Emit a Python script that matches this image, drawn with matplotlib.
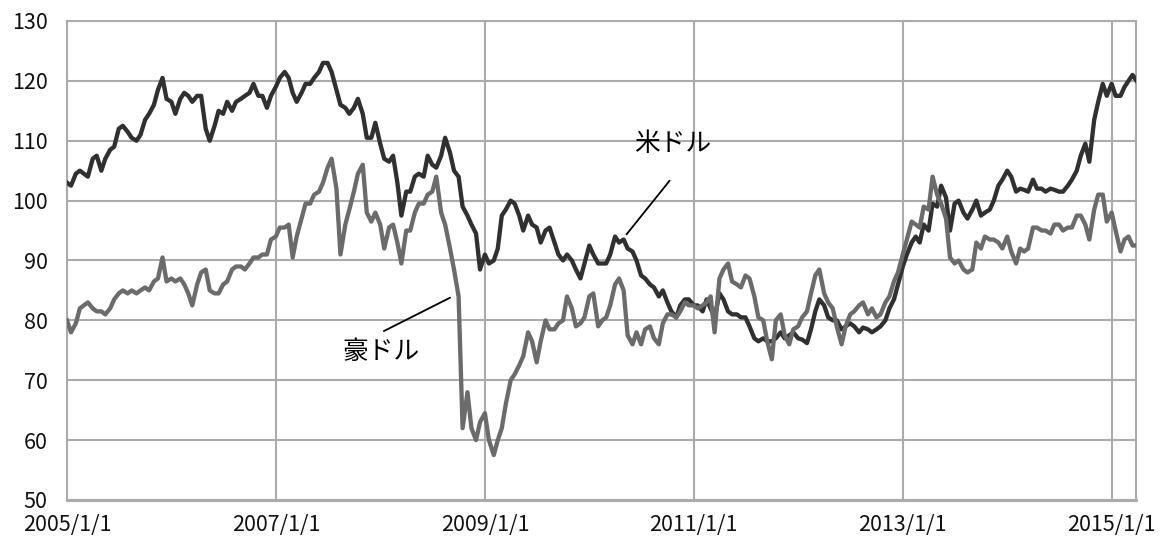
import matplotlib
matplotlib.use('Agg')
import matplotlib.pyplot as plt
from matplotlib.patches import Rectangle
import pandas as pd

plt.rcParams['font.family'] = ['Noto Sans CJK JP', 'DejaVu Sans']

# semi-monthly readings (1st and 15th of each month), 2005/1/1 .. 2015/4/1
usd_jpy = [
    # 2005
    103.0, 102.5, 104.5, 105.0, 104.5, 104.0, 107.0, 107.5, 105.0, 107.0, 108.5, 109.0,
    112.0, 112.5, 111.5, 110.5, 110.0, 111.0, 113.5, 114.5, 116.0, 118.5, 120.5, 117.0,
    # 2006
    116.5, 114.5, 117.0, 118.0, 117.5, 116.5, 117.5, 117.5, 112.0, 110.0, 112.5, 115.0,
    114.5, 116.5, 115.0, 116.5, 117.0, 117.5, 118.0, 119.5, 117.5, 117.5, 115.5, 117.5,
    # 2007
    119.0, 120.5, 121.5, 120.5, 118.0, 116.5, 118.0, 119.5, 119.5, 120.5, 121.5, 123.0,
    123.0, 121.5, 118.5, 116.0, 115.5, 114.5, 115.5, 117.0, 114.5, 110.5, 110.5, 113.0,
    # 2008
    109.5, 107.0, 106.5, 107.5, 103.0, 97.5, 101.5, 101.5, 104.0, 104.5, 104.0, 107.5,
    106.0, 105.5, 107.5, 110.5, 108.0, 105.0, 104.0, 99.0, 97.5, 96.0, 94.5, 88.5,
    # 2009
    91.0, 89.5, 90.0, 92.0, 97.5, 98.5, 100.0, 99.5, 97.5, 95.0, 97.5, 96.0,
    95.5, 93.0, 95.0, 95.5, 93.0, 91.0, 90.0, 91.0, 90.0, 88.5, 87.0, 89.5,
    # 2010
    92.5, 91.0, 89.5, 89.5, 89.5, 91.0, 94.0, 93.0, 93.5, 92.0, 91.5, 90.0,
    87.5, 87.0, 86.0, 85.5, 84.0, 85.0, 83.0, 81.5, 80.5, 82.5, 83.5, 83.5,
    # 2011
    82.5, 82.5, 81.5, 83.5, 82.0, 80.5, 84.5, 83.5, 81.5, 81.0, 81.0, 80.5,
    80.5, 79.0, 77.0, 76.5, 77.0, 76.5, 76.5, 77.0, 78.0, 77.0, 77.5, 78.0,
    # 2012
    77.0, 76.8, 76.2, 78.5, 81.5, 83.5, 82.5, 80.5, 80.0, 80.0, 78.5, 79.0,
    79.5, 79.0, 78.0, 78.8, 78.5, 78.0, 78.5, 79.0, 80.0, 82.0, 83.5, 86.0,
    # 2013
    89.0, 91.0, 93.0, 94.0, 93.0, 96.0, 95.0, 99.5, 99.0, 102.5, 100.5, 95.0,
    99.5, 100.0, 98.0, 97.0, 98.5, 100.0, 97.5, 98.0, 98.5, 100.0, 102.5, 103.5,
    # 2014
    105.0, 104.0, 101.5, 102.0, 101.8, 101.5, 103.5, 102.0, 102.0, 101.5, 102.0, 101.8,
    101.5, 101.5, 102.5, 103.5, 105.0, 107.5, 109.5, 106.5, 113.5, 116.5, 119.5, 117.5,
    # 2015
    119.5, 117.5, 117.5, 119.0, 120.0, 121.0, 119.8,
]

aud_jpy = [
    # 2005
    80.0, 78.0, 79.5, 82.0, 82.5, 83.0, 82.0, 81.5, 81.5, 81.0, 82.0, 83.5,
    84.5, 85.0, 84.5, 85.0, 84.5, 85.0, 85.5, 85.0, 86.5, 87.0, 90.5, 86.5,
    # 2006
    87.0, 86.5, 87.0, 86.0, 84.5, 82.5, 86.0, 88.0, 88.5, 85.0, 84.5, 84.5,
    86.0, 86.5, 88.5, 89.0, 89.0, 88.5, 89.5, 90.5, 90.5, 91.0, 91.0, 93.5,
    # 2007
    94.0, 95.5, 95.5, 96.0, 90.5, 94.0, 97.0, 99.5, 99.5, 101.0, 101.5, 103.0,
    105.5, 107.0, 102.0, 91.0, 96.0, 98.5, 101.5, 104.5, 106.0, 98.0, 96.5, 98.0,
    # 2008
    96.0, 92.0, 95.5, 96.0, 93.0, 89.5, 95.0, 95.0, 98.0, 99.5, 99.5, 101.0,
    101.5, 104.0, 98.0, 96.0, 92.0, 88.5, 84.0, 62.0, 68.0, 62.0, 60.0, 63.0,
    # 2009
    64.5, 60.0, 57.5, 60.0, 62.0, 66.0, 70.0, 71.0, 72.5, 74.0, 78.0, 76.5,
    73.0, 76.5, 80.0, 78.5, 78.5, 79.5, 80.0, 84.0, 82.0, 79.0, 79.5, 80.5,
    # 2010
    84.0, 84.5, 79.0, 80.0, 80.5, 82.5, 86.0, 87.0, 85.0, 77.5, 76.0, 78.0,
    76.0, 78.5, 79.0, 77.0, 76.0, 79.5, 81.0, 81.0, 80.5, 81.5, 83.0, 82.5,
    # 2011
    82.5, 82.0, 82.5, 83.0, 84.0, 78.0, 87.0, 88.5, 89.5, 86.5, 86.0, 85.5,
    87.5, 87.0, 84.0, 80.5, 80.0, 76.5, 73.5, 80.0, 81.0, 77.5, 76.0, 78.5,
    # 2012
    79.0, 80.5, 81.5, 84.5, 87.5, 88.5, 84.5, 83.0, 82.0, 79.0, 76.0, 79.0,
    81.0, 81.5, 82.5, 83.0, 81.0, 82.0, 80.5, 81.0, 83.0, 84.0, 86.5, 88.0,
    # 2013
    91.0, 93.5, 96.5, 96.0, 95.5, 99.0, 98.5, 104.0, 101.0, 99.5, 97.0, 90.5,
    89.5, 90.0, 88.5, 88.0, 88.5, 93.0, 92.0, 94.0, 93.5, 93.5, 93.0, 92.0,
    # 2014
    94.0, 91.5, 89.5, 92.0, 91.5, 92.0, 95.5, 95.5, 95.0, 95.0, 94.5, 96.0,
    96.0, 95.0, 95.5, 95.5, 97.5, 97.5, 96.0, 93.5, 98.5, 101.0, 101.0, 96.5,
    # 2015
    98.0, 95.0, 91.5, 93.5, 94.0, 92.5, 92.5,
]

dates = pd.date_range('2005-01-01', periods=len(usd_jpy), freq='SMS')
tick_years = [2005, 2007, 2009, 2011, 2013, 2015]
tick_labels = ['%d/1/1' % y for y in tick_years]

fig = plt.figure(figsize=(11.67, 5.44), dpi=100)
ax = fig.add_axes([0.0574, 0.0809, 0.916, 0.8805])

grid_col = '#ababab'
ax.plot(dates, usd_jpy, color='#303030', lw=3.1, zorder=3, solid_joinstyle='round')
ax.plot(dates, aud_jpy, color='#6b6b6b', lw=3.1, zorder=3, solid_joinstyle='round')

ax.set_ylim(50, 130)
ax.set_yticks(range(50, 131, 10))
ax.set_xlim(pd.Timestamp('2005-01-01'), pd.Timestamp('2015-03-27'))
ax.set_xticks([pd.Timestamp('%d-01-01' % y) for y in tick_years])
ax.set_xticklabels(tick_labels)

ax.grid(True, color=grid_col, lw=1.5, zorder=0)
for s in ax.spines.values():
    s.set_color(grid_col)
    s.set_linewidth(1.5)
ax.spines['bottom'].set_linewidth(2.2)
ax.tick_params(length=0, labelsize=15.5, colors='#111111')
ax.tick_params(axis='y', pad=14)
ax.tick_params(axis='x', pad=10)

# white box behind the US dollar label
ax.add_patch(Rectangle((0.5014, 0.670), 0.13, 0.098, transform=ax.transAxes,
                       fc='white', ec='none', zorder=1))
ax.text(0.567, 0.7435, '米ドル', transform=ax.transAxes, fontsize=18.5,
        ha='center', va='center', zorder=4)
ax.annotate('', xy=(pd.Timestamp('2010-05-05'), 94.0),
            xytext=(pd.Timestamp('2010-10-15'), 103.7),
            arrowprops=dict(arrowstyle='-', color='black', lw=1.3), zorder=4)

ax.text(pd.Timestamp('2008-01-05'), 74.8, '豪ドル', fontsize=18.5,
        ha='center', va='center', zorder=4)
ax.annotate('', xy=(pd.Timestamp('2008-09-10'), 84.0),
            xytext=(pd.Timestamp('2008-01-05'), 78.0),
            arrowprops=dict(arrowstyle='-', color='black', lw=1.3), zorder=4)

plt.savefig('out.png', dpi=100)
